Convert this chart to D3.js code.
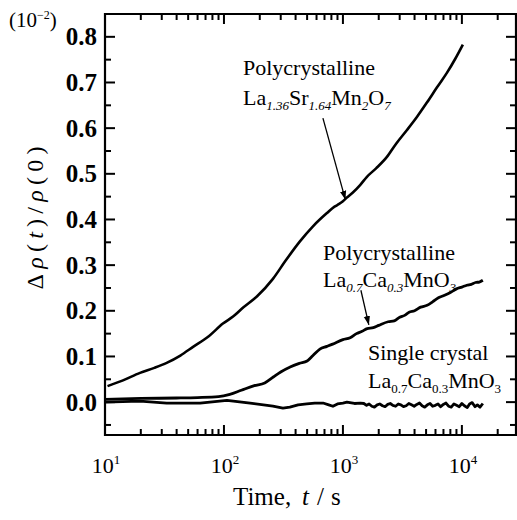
<!DOCTYPE html>
<html>
<head>
<meta charset="utf-8">
<script src="https://cdn.jsdelivr.net/npm/d3@7"></script>
<style>
  body { margin: 0; background: #fff; }
  svg { display: block; }
  text { font-family: "Liberation Serif", "Times New Roman", serif; fill: #000; }
</style>
</head>
<body>
<svg id="plot" width="517" height="520"></svg>
<script>
// data: [time (s), delta rho / rho(0) in 1e-2]
const srPoly = [
  [10.5, 0.035], [14, 0.047], [19.7, 0.064], [26, 0.075], [33, 0.086], [43, 0.102],
  [55, 0.121], [75, 0.145], [98, 0.172], [120, 0.188], [145, 0.207], [190, 0.232],
  [258, 0.27], [330, 0.31], [435, 0.352], [560, 0.385], [734, 0.414], [850, 0.428],
  [930, 0.434], [1000, 0.440], [1080, 0.448], [1200, 0.458], [1400, 0.476], [1585, 0.493],
  [1900, 0.512], [2344, 0.537], [2800, 0.566], [3455, 0.596], [4200, 0.625], [5080, 0.656],
  [6200, 0.690], [7480, 0.721], [8800, 0.752], [10190, 0.783]
]
const caPoly = [
  [10, 0.006], [20, 0.008], [40, 0.009], [60, 0.010], [90, 0.012], [112, 0.017],
  [140, 0.026], [180, 0.036], [220, 0.042], [260, 0.055], [300, 0.066], [360, 0.077],
  [430, 0.085], [500, 0.090], [560, 0.102], [640, 0.116], [734, 0.122], [820, 0.127],
  [1000, 0.137], [1150, 0.141], [1300, 0.150], [1450, 0.155], [1600, 0.161], [1800, 0.163],
  [2000, 0.168], [2400, 0.176], [2700, 0.178], [3000, 0.186], [3300, 0.190], [3600, 0.197],
  [4000, 0.200], [4500, 0.208], [5100, 0.212], [5700, 0.220], [6300, 0.228], [7000, 0.233],
  [8000, 0.240], [9000, 0.248], [10000, 0.252], [11000, 0.256], [12000, 0.258], [13000, 0.262],
  [14000, 0.263], [15000, 0.267]
]
const caSingle = [
  [10, 0.000], [19.7, 0.002], [33, -0.002], [63, -0.002], [106, 0.004], [166, -0.002],
  [258, -0.009], [313, -0.013], [358, -0.011], [420, -0.006], [497, -0.004], [580, -0.002],
  [680, -0.002], [760, -0.006], [824, -0.009], [900, -0.004], [1000, -0.002], [1080, 0.000],
  [1250, -0.003], [1400, -0.002], [1500, -0.003], [1580, -0.007], [1660, -0.004], [1750, -0.009],
  [1840, -0.011], [1940, -0.006], [2040, -0.004], [2150, -0.008], [2260, -0.010], [2380, -0.005],
  [2500, -0.003], [2630, -0.007], [2770, -0.009], [2920, -0.004], [3070, -0.006], [3230, -0.010],
  [3400, -0.008], [3580, -0.003], [3770, -0.006], [3970, -0.009], [4180, -0.005], [4400, -0.002],
  [4630, -0.008], [4870, -0.011], [5130, -0.006], [5400, -0.003], [5680, -0.009], [5980, -0.007],
  [6300, -0.004], [6630, -0.010], [6980, -0.005], [7350, -0.002], [7730, -0.009], [8140, -0.011],
  [8570, -0.004], [9020, -0.007], [9500, -0.010], [10000, -0.003], [10500, -0.008], [11100, -0.012],
  [11600, -0.004], [12200, -0.001], [12900, -0.010], [13500, -0.006], [14200, -0.011], [15000, -0.003]
]
const yMajor = [0.0, 0.1, 0.2, 0.3, 0.4, 0.5, 0.6, 0.7, 0.8]
const yMinor = [-0.05, 0.05, 0.15, 0.25, 0.35, 0.45, 0.55, 0.65, 0.75]
const xExp = [1, 2, 3, 4]

const svg = d3.select('#plot')
const mLeft = 105, mRight = 516, mTop = 14, mBottom = 435

const x = d3.scaleLog().domain([10, 28500]).range([mLeft, mRight])
const y = d3.scaleLinear().domain([-0.072, 0.85]).range([mBottom, mTop])

const xMajor = xExp.map(e => Math.pow(10, e))
let xMinor = []
xExp.forEach(e => { for (let k = 2; k <= 9; k++) { const v = k * Math.pow(10, e); if (v < 28500) xMinor.push(v) } })

// frame
svg.append('path')
  .attr('d', `M${mLeft},${mTop}H${mRight}V${mBottom}H${mLeft}Z`)
  .attr('fill', 'none').attr('stroke', '#000').attr('stroke-width', 2.2)

// y tick labels through d3 axis
const yAx = svg.append('g').attr('transform', `translate(${mLeft},0)`)
  .call(d3.axisLeft(y).tickValues(yMajor).tickSize(0).tickPadding(8).tickFormat(d3.format('.1f')))
yAx.select('.domain').remove()
yAx.selectAll('text').attr('font-size', 25).attr('font-weight', 'bold')
  .style('font-family', '"Liberation Serif", serif')

// x tick labels 10^n
svg.append('g').selectAll('text').data(xExp).enter().append('text')
  .attr('x', d => x(Math.pow(10, d)) + 1).attr('y', 473)
  .attr('text-anchor', 'middle').attr('font-size', 22)
  .each(function (d) {
    const t = d3.select(this)
    t.append('tspan').text('10')
    t.append('tspan').attr('dy', -9).attr('font-size', 13).text(d)
  })

// curves
const smooth = d3.line().x(d => x(d[0])).y(d => y(d[1])).curve(d3.curveMonotoneX)
const raw = d3.line().x(d => x(d[0])).y(d => y(d[1]))
svg.append('path').datum(srPoly).attr('d', smooth).attr('fill', 'none')
  .attr('stroke', '#000').attr('stroke-width', 2.6)
svg.append('path').datum(caPoly).attr('d', smooth).attr('fill', 'none')
  .attr('stroke', '#000').attr('stroke-width', 2.8)
svg.append('path').datum(caSingle).attr('d', raw).attr('fill', 'none')
  .attr('stroke', '#000').attr('stroke-width', 2.8).attr('stroke-linejoin', 'round')

// arrows
svg.append('defs').append('marker').attr('id', 'ah').attr('viewBox', '0 0 10 10')
  .attr('refX', 10).attr('refY', 5).attr('markerWidth', 9).attr('markerHeight', 9)
  .attr('markerUnits', 'userSpaceOnUse').attr('orient', 'auto')
  .append('path').attr('d', 'M0,1.5 L10,5 L0,8.5 Z').attr('fill', '#000')
const arrows = [
  [[679, 0.622], [1050, 0.443]],
  [[1416, 0.245], [1652, 0.169]]
]
arrows.forEach(a => {
  svg.append('line').attr('x1', x(a[0][0])).attr('y1', y(a[0][1]))
    .attr('x2', x(a[1][0])).attr('y2', y(a[1][1]))
    .attr('stroke', '#000').attr('stroke-width', 1.3).attr('marker-end', 'url(#ah)')
})

// annotation text with subscripts
const formula = (px, py, parts, italicSub) => {
  const t = svg.append('text').attr('x', px).attr('y', py).attr('font-size', 22)
  let low = false
  parts.forEach((p, i) => {
    const sub = i % 2 === 1
    const ts = t.append('tspan').text(p)
    if (sub && !low) { ts.attr('dy', 5); low = true }
    else if (!sub && low) { ts.attr('dy', -5); low = false }
    if (sub) { ts.attr('font-size', 13); if (italicSub) ts.attr('font-style', 'italic') }
  })
}
const label = (px, py, txt) => svg.append('text').attr('x', px).attr('y', py).attr('font-size', 22).text(txt)

label(243, 75, 'Polycrystalline')
formula(243, 105, ['La', '1.36', 'Sr', '1.64', 'Mn', '2', 'O', '7'], true)
label(323, 260, 'Polycrystalline')
formula(323, 287, ['La', '0.7', 'Ca', '0.3', 'MnO', '3'], true)
label(368, 360, 'Single crystal')
formula(368, 388, ['La', '0.7', 'Ca', '0.3', 'MnO', '3'], false)

// axis titles
const xt = svg.append('text').attr('y', 505).attr('font-size', 25)
xt.append('tspan').attr('x', 233).text('Time,')
xt.append('tspan').attr('x', 302).attr('font-style', 'italic').text('t')
xt.append('tspan').attr('x', 317).text('/')
xt.append('tspan').attr('x', 331).text('s')

const yt = svg.append('text').attr('transform', 'translate(43,218) rotate(-90)')
  .attr('text-anchor', 'middle').attr('font-size', 24)
  .attr('textLength', 143).attr('lengthAdjust', 'spacing')
yt.append('tspan').text('Δ')
yt.append('tspan').attr('font-style', 'italic').text('ρ')
yt.append('tspan').text('(')
yt.append('tspan').attr('font-style', 'italic').text('t')
yt.append('tspan').text(')/')
yt.append('tspan').attr('font-style', 'italic').text('ρ')
yt.append('tspan').text('(0)')

// scale factor in top-left corner
const sc = svg.append('text').attr('x', 9).attr('y', 27).attr('font-size', 21)
sc.append('tspan').text('(10')
sc.append('tspan').attr('dy', -8).attr('font-size', 12).text('−2')
sc.append('tspan').attr('dy', 8).text(')')

// inward ticks on all four sides, drawn last as single lines
const tick = (x1, y1, x2, y2) => svg.append('line')
  .attr('x1', x1).attr('y1', y1).attr('x2', x2).attr('y2', y2)
  .attr('stroke', '#000').attr('stroke-width', 2)
xMajor.forEach(v => { tick(x(v), mBottom, x(v), mBottom - 10); tick(x(v), mTop, x(v), mTop + 10) })
xMinor.forEach(v => { tick(x(v), mBottom, x(v), mBottom - 6); tick(x(v), mTop, x(v), mTop + 6) })
yMajor.forEach(v => { tick(mLeft, y(v), mLeft + 10, y(v)); tick(mRight, y(v), mRight - 10, y(v)) })
yMinor.forEach(v => { tick(mLeft, y(v), mLeft + 6, y(v)); tick(mRight, y(v), mRight - 6, y(v)) })
</script>
</body>
</html>
